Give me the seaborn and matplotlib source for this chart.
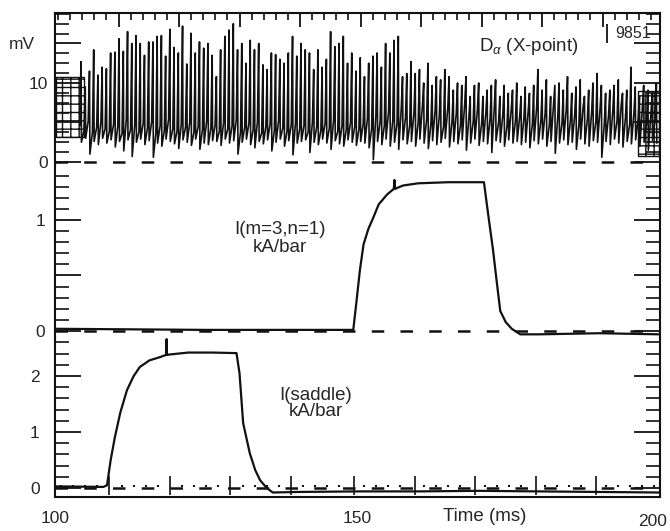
import numpy as np
import pandas as pd
import matplotlib
matplotlib.use("Agg")
import matplotlib.pyplot as plt
import seaborn as sns
from matplotlib.ticker import FixedLocator, MultipleLocator
from matplotlib.patches import Rectangle
import matplotlib.transforms as mtransforms

# ---------------------------------------------------------------------------
# Shot 9851 data
# ---------------------------------------------------------------------------
# D-alpha (X-point) ELM bursts, mV: spike maxima, following minima, and the
# level the trace returns to between bursts
dalpha_peaks = [
    12.7, 9.5, 11.5, 14.2, 11.0, 12.0, 11.8, 13.8, 13.9, 15.6, 14.0, 16.5, 15.0, 16.0, 15.0, 13.5,
    15.2, 15.2, 15.9, 16.0, 13.4, 16.8, 14.5, 13.8, 17.2, 12.4, 16.3, 13.8, 15.2, 14.4, 15.0, 13.5,
    10.8, 14.2, 15.9, 16.7, 17.5, 14.2, 15.0, 12.5, 15.4, 14.2, 15.0, 12.3, 11.7, 13.8, 13.6, 13.0,
    12.5, 13.8, 15.9, 13.4, 15.0, 14.2, 13.8, 11.7, 14.2, 12.0, 13.0, 16.5, 14.6, 15.0, 15.9, 12.5,
    13.8, 11.5, 13.2,
    10.8, 12.5, 13.4, 13.8, 12.0, 15.0, 13.8, 15.4, 15.9, 10.8, 11.2, 12.7, 11.2, 11.7, 10.0, 12.5,
    9.7, 10.8, 10.4, 11.7, 10.8, 9.1, 10.0, 9.7, 10.8, 8.3, 9.7, 10.0, 8.3, 9.1, 9.7, 10.4, 8.3, 9.7,
    8.7, 9.1, 10.0, 8.3,
    9.5, 8.7, 9.7, 11.7, 9.1, 10.4, 8.3, 9.7, 10.0, 9.1, 10.8, 8.7, 9.5, 10.4, 8.3, 9.1, 10.0, 11.2,
    9.7, 8.7, 9.1, 9.7, 10.4, 8.7, 9.1, 12.0, 9.5, 8.3, 9.7, 9.1, 8.7, 10.0,
]
dalpha_troughs = [
    2.5, 3.0, 1.0, 2.6, 2.2, 3.0, 2.4, 2.8, 1.9, 2.6, 1.4, 2.8, 0.7, 2.5, 2.9, 2.2,
    2.7, 0.6, 2.4, 2.0, 2.9, 2.6, 2.3, 1.7, 2.8, 2.5, 2.1, 2.9, 1.6, 2.4, 2.2, 2.7,
    2.6, 2.1, 2.9, 2.4, 2.7, 1.0, 2.5, 2.9, 2.2, 1.8, 2.6, 2.3, 2.8, 1.4, 2.5, 2.9,
    2.0, 2.7, 0.9, 2.4, 2.6, 2.8, 1.2, 2.5, 2.2, 2.9, 2.4, 1.6, 2.7, 2.3, 2.0, 2.8,
    2.5, 2.1, 2.6,
    2.4, 1.8, 0.3, 2.6, 2.2, 2.9, 2.0, 2.5, 1.6, 2.8, 2.3, 2.6, 2.0, 2.9, 2.4, 1.7,
    2.7, 2.2, 2.5, 3.0, 1.9, 2.6, 2.3, 2.8, 1.5, 2.4, 2.9, 2.1, 2.6, 2.3, 1.2, 2.7, 2.5, 2.0,
    2.8, 2.4, 2.6, 2.2,
    2.5, 1.8, 2.7, 2.3, 2.9, 2.0, 2.6, 1.1, 2.4, 2.8, 2.2, 2.5, 1.6, 2.9, 2.3, 2.0, 2.7, 2.5,
    0.6, 2.6, 2.2, 2.9, 2.4, 1.9, 2.6, 2.3, 2.8, 2.0, 2.5, 1.5, 2.7, 2.4,
]
dalpha_base = [
    4.6, 4.0, 5.2, 3.8, 4.4, 5.0, 4.2, 3.9, 4.8, 4.5, 3.6, 5.3, 4.1, 4.7, 3.8, 4.9,
    4.3, 5.1, 3.7, 4.6, 4.0, 5.4, 4.2, 3.9, 4.8, 4.4, 5.0, 3.8, 4.5, 4.1, 5.2, 4.3,
    4.7, 3.9, 5.0, 4.2, 4.6, 5.3, 3.8, 4.4, 4.9, 4.1, 5.1, 3.7, 4.5, 4.8, 4.0, 5.2,
    4.3, 3.9, 4.7, 5.0, 4.2, 4.6, 3.8, 5.1, 4.4, 4.0, 4.9, 4.3, 5.3, 3.9, 4.6, 4.1,
    5.0, 4.5, 4.2,
    4.8, 5.5, 4.2, 6.0, 5.1, 4.6, 6.4, 5.3, 4.9, 6.8, 5.6, 4.7, 6.2, 5.0, 7.1, 5.4,
    4.8, 6.5, 5.9, 4.5, 6.9, 5.2, 6.1, 4.7, 7.4, 5.8, 5.1, 6.6, 4.9, 6.3, 5.5, 7.0, 5.0, 6.0,
    4.6, 6.7, 5.3, 5.8,
    5.6, 6.4, 4.9, 6.9, 5.3, 6.1, 4.7, 7.2, 5.8, 5.0, 6.6, 5.4, 6.0, 4.8, 7.0, 5.5, 6.3, 5.1,
    6.8, 4.9, 5.9, 6.5, 5.2, 7.3, 5.7, 4.8, 6.2, 5.5, 6.9, 5.0, 6.0, 5.4,
]
dalpha_span = (104.3, 199.4)          # first and last burst, ms

# Coil current I(m=3, n=1), kA/bar
m31_time = [100.0, 125.0, 149.3, 149.8, 150.4, 151.0, 151.8, 152.6, 153.5, 154.9, 156.0,
            156.1, 156.2, 157.5, 160.0, 165.0, 170.9, 171.6, 172.4, 173.0, 173.6, 174.5,
            175.5, 176.9, 180.0, 190.0, 200.0]
m31_curr = [0.02, 0.01, 0.01, 0.25, 0.55, 0.78, 0.92, 1.02, 1.14, 1.23, 1.28,
            1.36, 1.28, 1.31, 1.33, 1.34, 1.34, 1.05, 0.73, 0.45, 0.18, 0.08,
            0.02, -0.03, -0.03, -0.02, -0.03]

# Saddle coil current, kA/bar
saddle_time = [100.0, 108.0, 108.6, 109.2, 109.9, 110.8, 111.9, 113.0, 114.0, 115.6, 117.4,
               118.4, 118.45, 118.5, 122.0, 126.0, 130.0, 130.5, 131.1, 132.2, 133.1, 133.9,
               135.0, 136.0, 140.0, 150.0, 160.0, 170.0, 180.0, 190.0, 200.0]
saddle_curr = [0.03, 0.02, 0.05, 0.50, 0.91, 1.35, 1.75, 2.00, 2.16, 2.28, 2.34,
               2.38, 2.66, 2.38, 2.42, 2.42, 2.41, 2.05, 1.16, 0.62, 0.32, 0.14,
               0.00, -0.08, -0.07, -0.06, -0.06, -0.05, -0.06, -0.07, -0.08]

# Timing marks (ms)
top_marks_major = [110.5, 120.5, 130.5, 140.5, 150.5, 160.5, 170.5, 180.5, 190.5]
bottom_marks_major = [109.0, 119.0, 129.0, 139.0, 149.5, 159.5, 169.5, 179.5, 189.5]
mark_step = 2.0

x_ticks = [100, 150, 200]

# ---------------------------------------------------------------------------
sns.set_style("ticks")
plt.rcParams['font.family'] = ['Liberation Sans', 'DejaVu Sans']
plt.rcParams['mathtext.fontset'] = 'custom'
plt.rcParams['mathtext.rm'] = 'Liberation Sans'
plt.rcParams['mathtext.it'] = 'Liberation Sans:italic'
plt.rcParams['axes.linewidth'] = 1.5

FS = 12.5      # tick labels
FT = 13.5      # panel captions
INK = '#111111'

fig = plt.figure(figsize=(6.7, 5.31), dpi=100)
left, width = 55 / 670, 605 / 670
ax_d = fig.add_axes([left, 1 - 165 / 531, width, 152 / 531])
ax_m = fig.add_axes([left, 1 - 338 / 531, width, 173 / 531])
ax_s = fig.add_axes([left, 1 - 497 / 531, width, 159 / 531])
for ax in (ax_d, ax_m, ax_s):
    ax.set_xlim(100, 200)
    ax.patch.set_alpha(0)
    for s in ax.spines.values():
        s.set_color(INK)

ax_d.set_ylim(-0.38, 18.86)
ax_m.set_ylim(-0.063, 1.495)
ax_s.set_ylim(-0.16, 2.68)

# --- D-alpha trace built from the burst lists
n = len(dalpha_peaks)
t_sp = np.linspace(dalpha_span[0], dalpha_span[1], n)
dt = t_sp[1] - t_sp[0]
tt, vv = [], []
for ti, b, p, tr in zip(t_sp, dalpha_base, dalpha_peaks, dalpha_troughs):
    tt += [ti - 0.30 * dt, ti, ti + 0.10 * dt]
    vv += [b, p, tr]
df_d = pd.DataFrame({'t': tt, 'v': vv})
sns.lineplot(data=df_d, x='t', y='v', ax=ax_d, color=INK, lw=1.2,
             estimator=None, sort=False)

df_m = pd.DataFrame({'t': m31_time, 'v': m31_curr})
sns.lineplot(data=df_m, x='t', y='v', ax=ax_m, color=INK, lw=1.6,
             estimator=None, sort=False)
df_s = pd.DataFrame({'t': saddle_time, 'v': saddle_curr})
sns.lineplot(data=df_s, x='t', y='v', ax=ax_s, color=INK, lw=1.6,
             estimator=None, sort=False)

# dashed zero references
for ax in (ax_d, ax_m, ax_s):
    ax.axhline(0, color=INK, lw=1.8, dashes=(5, 6.5), zorder=1)
    ax.set_xlabel('')
    ax.set_ylabel('')

# calibration grids at the ends of the D-alpha record
for (x0, x1, y0, y1) in [(100.2, 104.8, 3.2, 10.8), (196.4, 199.9, 0.8, 9.0)]:
    ax_d.add_patch(Rectangle((x0, y0), x1 - x0, y1 - y0, fill=False,
                             edgecolor=INK, lw=1.0, hatch='++', zorder=3))

# --- spines
ax_d.spines['bottom'].set_visible(False)
ax_m.spines['top'].set_visible(False)
ax_m.spines['bottom'].set_visible(False)
ax_s.spines['top'].set_visible(False)

# --- y ticks: inward on both sides
y_setup = [
    (ax_d, [0, 5, 10, 15], 1.25, ['0', '', '10', ''], 5),
    (ax_m, [0, 0.5, 1.0], 0.1, ['0', '', '1'], 7),
    (ax_s, [0, 1, 2], 0.2, ['0', '1', '2'], 11),
]
for ax, major, minor, labels, pad in y_setup:
    ax.yaxis.set_major_locator(FixedLocator(major))
    ax.yaxis.set_minor_locator(MultipleLocator(minor))
    ax.set_yticklabels(labels)
    ax.tick_params(axis='y', which='both', direction='in', left=True, right=True,
                   color=INK, labelsize=FS, pad=pad)
    ax.tick_params(axis='y', which='major', length=19, width=1.3)
    ax.tick_params(axis='y', which='minor', length=10, width=1.2)

ax_d.text(-0.054, 14.9, 'mV', transform=mtransforms.blended_transform_factory(
    ax_d.transAxes, ax_d.transData), ha='center', va='center', fontsize=FS)

# --- x ticks
ax_d.xaxis.set_ticks_position('top')
ax_d.xaxis.set_major_locator(FixedLocator(top_marks_major))
ax_d.xaxis.set_minor_locator(FixedLocator(np.arange(100.5, 200, mark_step)))
ax_d.tick_params(axis='x', which='both', direction='in', top=True, bottom=False,
                 labeltop=False, labelbottom=False, color=INK)
ax_d.tick_params(axis='x', which='major', length=10, width=1.3)
ax_d.tick_params(axis='x', which='minor', length=5, width=1.2)

ax_m.tick_params(axis='x', which='both', bottom=False, top=False,
                 labelbottom=False)

ax_s.set_xticks(x_ticks)
ax_s.set_xticklabels([str(v) for v in x_ticks])
ax_s.tick_params(axis='x', which='both', length=0, labelsize=FS, pad=10)
ax_s.xaxis.set_minor_locator(FixedLocator([]))
last = ax_s.get_xticklabels()[-1]
last.set_ha('right')
last.set_transform(last.get_transform() +
                   mtransforms.ScaledTranslation(5 / 72, -2 / 72, fig.dpi_scale_trans))

# timing marks along the saddle baseline
minor_marks = [m for m in np.arange(101.0, 200, mark_step)
               if min(abs(m - M) for M in bottom_marks_major) > 0.6]
ax_s.vlines(bottom_marks_major, -0.12, 0.22, color=INK, lw=1.2)
ax_s.vlines(minor_marks, 0.01, 0.06, color=INK, lw=1.5)

# --- annotations
ax_d.text(178.3, 14.6, r'D$_\alpha$ (X-point)', ha='center', va='center', fontsize=FT)
ax_d.vlines(191.2, 15.0, 17.5, color=INK, lw=1.3)
ax_d.text(195.5, 16.3, '9851', ha='center', va='center', fontsize=FS - 1)
ax_m.text(137.2, 0.91, 'I(m=3,n=1)', ha='center', va='center', fontsize=FT)
ax_m.text(137.2, 0.75, 'kA/bar', ha='center', va='center', fontsize=FT)
ax_s.text(143.1, 1.66, 'I(saddle)', ha='center', va='center', fontsize=FT)
ax_s.text(143.1, 1.36, 'kA/bar', ha='center', va='center', fontsize=FT)
ax_s.text(171.0, -0.5, 'Time (ms)', ha='center', va='center', fontsize=FT)

fig.savefig('out.png', dpi=100)
